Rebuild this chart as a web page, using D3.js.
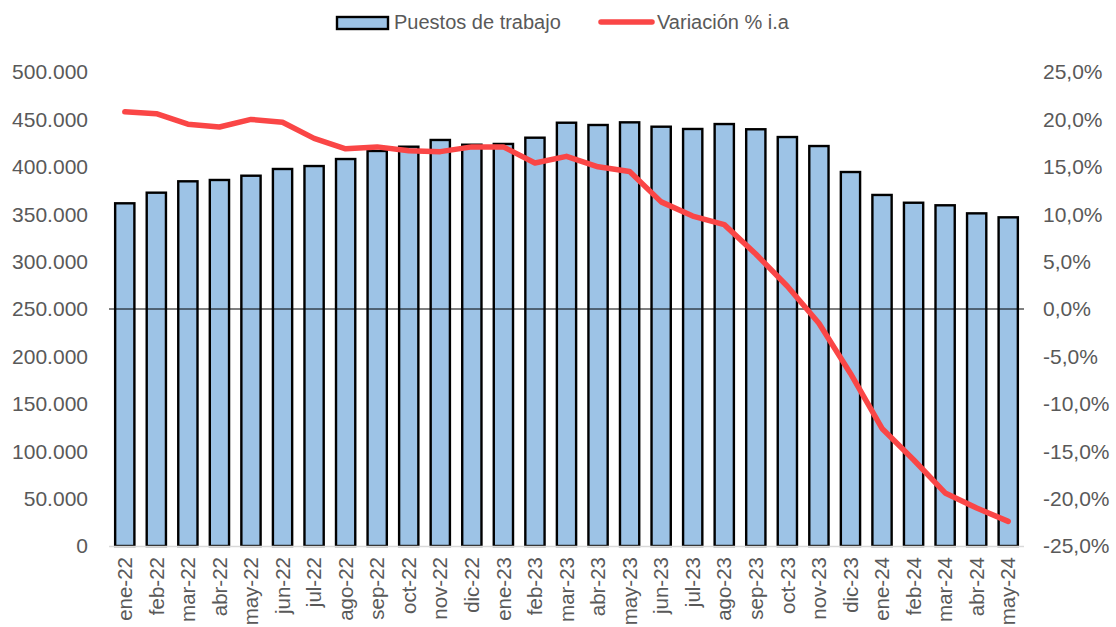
<!DOCTYPE html>
<html>
<head>
<meta charset="utf-8">
<script src="https://cdn.jsdelivr.net/npm/d3@7"></script>
<style>
  html, body { margin: 0; padding: 0; background: #fff; }
  svg { display: block; font-family: "Liberation Sans", Arial, sans-serif; }
</style>
</head>
<body>
<svg id="chart" width="1116" height="627"></svg>
<script>
const categories = ["ene-22","feb-22","mar-22","abr-22","may-22","jun-22","jul-22","ago-22","sep-22","oct-22","nov-22","dic-22",
  "ene-23","feb-23","mar-23","abr-23","may-23","jun-23","jul-23","ago-23","sep-23","oct-23","nov-23","dic-23",
  "ene-24","feb-24","mar-24","abr-24","may-24"];
const puestos = [361500,372700,384700,386100,390600,397700,400800,408200,416700,421200,428300,423300,
  424100,430700,446500,444100,446900,442300,439900,445100,439600,431400,421900,394500,
  370300,362100,359400,350900,346700];
const variacion = [20.8,20.6,19.5,19.2,20.0,19.7,18.0,16.9,17.1,16.7,16.6,17.1,
  17.1,15.4,16.1,15.0,14.5,11.3,9.8,8.9,5.8,2.4,-1.5,-6.8,
  -12.6,-15.9,-19.4,-21.0,-22.4];
const leftTicks = [0,50000,100000,150000,200000,250000,300000,350000,400000,450000,500000];
const rightTicks = [-25,-20,-15,-10,-5,0,5,10,15,20,25];
const seriesNames = ["Puestos de trabajo", "Variación % i.a"];

const svg = d3.select("#chart");
const plot = { left: 109, right: 1024, top: 72, bottom: 546 };
const textColor = "#595959";
const fontSize = 21;

const x = d3.scaleBand().domain(categories).range([plot.left, plot.right]).paddingInner(0.39).paddingOuter(0.195);
const yL = d3.scaleLinear().domain([0, 500000]).range([plot.bottom, plot.top]);
const yR = d3.scaleLinear().domain([-25, 25]).range([plot.bottom, plot.top]);

const fmtThousands = d3.formatLocale({ decimal: ",", thousands: ".", grouping: [3], currency: ["", ""] }).format(",.0f");
const fmtPct = v => d3.format(".1f")(v).replace(".", ",").replace("−", "-") + "%";

// left axis labels
svg.append("g").selectAll("text").data(leftTicks).join("text")
  .attr("x", 88).attr("y", d => yL(d)).attr("dy", "0.35em")
  .attr("text-anchor", "end").attr("fill", textColor).attr("font-size", fontSize)
  .text(d => fmtThousands(d));

// right axis labels
svg.append("g").selectAll("text").data(rightTicks).join("text")
  .attr("x", 1043).attr("y", d => yR(d)).attr("dy", "0.35em")
  .attr("text-anchor", "start").attr("fill", textColor).attr("font-size", fontSize)
  .text(d => fmtPct(d));

// bars
svg.append("g").selectAll("rect").data(categories).join("rect")
  .attr("x", d => x(d)).attr("width", x.bandwidth())
  .attr("y", (d, i) => yL(puestos[i]))
  .attr("height", (d, i) => yL(0) - yL(puestos[i]))
  .attr("fill", "#9DC3E6").attr("stroke", "#000").attr("stroke-width", 2.4);

// x axis line
svg.append("line").attr("x1", plot.left).attr("x2", plot.right)
  .attr("y1", yL(0) + 0.5).attr("y2", yL(0) + 0.5)
  .attr("stroke", "#D9D9D9").attr("stroke-width", 1.5);

// zero line of right axis
svg.append("line").attr("x1", plot.left).attr("x2", plot.right)
  .attr("y1", yR(0)).attr("y2", yR(0))
  .attr("stroke", "#000").attr("stroke-width", 1);

// line series
const line = d3.line().x((d, i) => x(categories[i]) + x.bandwidth() / 2).y(d => yR(d));
svg.append("path").datum(variacion).attr("d", line)
  .attr("fill", "none").attr("stroke", "#FA4646").attr("stroke-width", 5.5)
  .attr("stroke-linecap", "round").attr("stroke-linejoin", "round");

// x labels
svg.append("g").selectAll("text").data(categories).join("text")
  .attr("transform", d => `translate(${x(d) + x.bandwidth() / 2},557) rotate(-90)`)
  .attr("dy", "0.35em").attr("text-anchor", "end")
  .attr("fill", textColor).attr("font-size", 20.5)
  .text(d => d);

// legend
const lg = svg.append("g");
lg.append("rect").attr("x", 337).attr("y", 17).attr("width", 51).attr("height", 12)
  .attr("fill", "#9DC3E6").attr("stroke", "#000").attr("stroke-width", 2.4);
lg.append("text").attr("x", 394).attr("y", 29).attr("fill", textColor).attr("font-size", 20).text(seriesNames[0]);
lg.append("line").attr("x1", 601).attr("x2", 652).attr("y1", 22).attr("y2", 22)
  .attr("stroke", "#FA4646").attr("stroke-width", 5.5).attr("stroke-linecap", "round");
lg.append("text").attr("x", 657).attr("y", 29).attr("fill", textColor).attr("font-size", 20).text(seriesNames[1]);
</script>
</body>
</html>
